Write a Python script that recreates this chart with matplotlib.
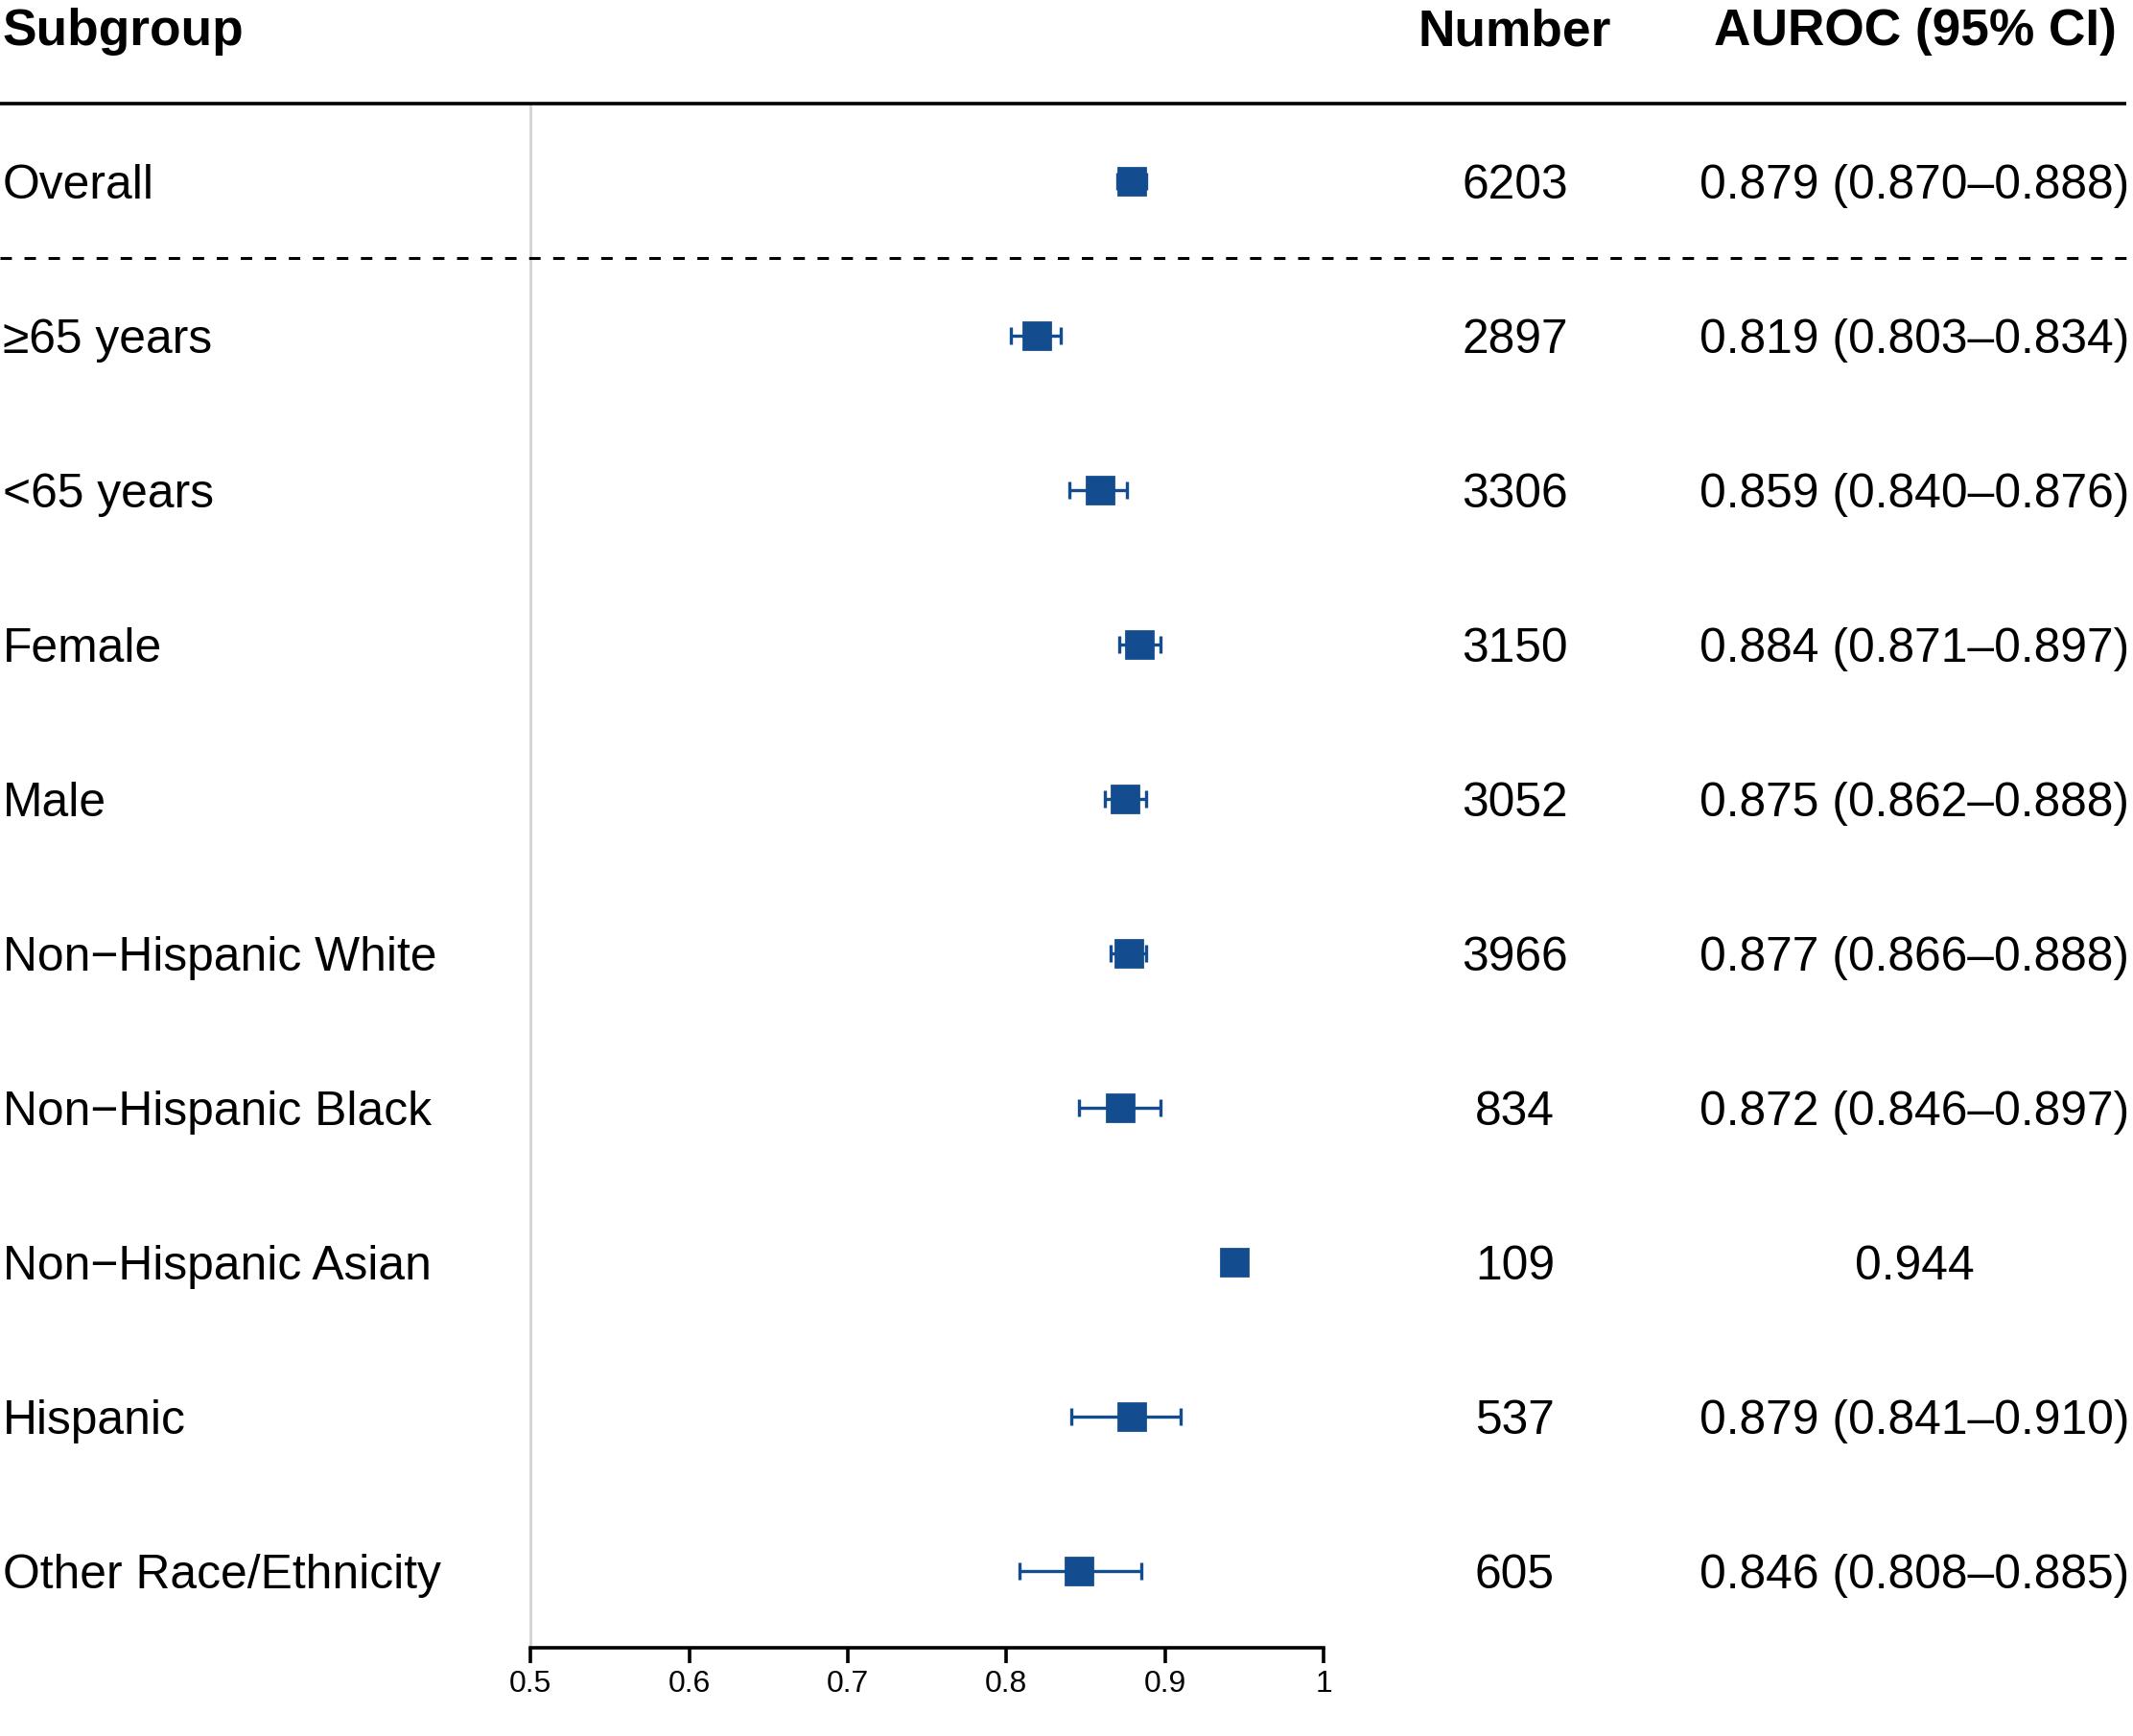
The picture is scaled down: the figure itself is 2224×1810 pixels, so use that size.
import matplotlib.pyplot as plt
import numpy as np

# ---- data ----
subgroups = ["Overall", "\u226565 years", "<65 years", "Female", "Male",
             "Non\u2212Hispanic White", "Non\u2212Hispanic Black",
             "Non\u2212Hispanic Asian", "Hispanic", "Other Race/Ethnicity"]
numbers = [6203, 2897, 3306, 3150, 3052, 3966, 834, 109, 537, 605]
auroc = [0.879, 0.819, 0.859, 0.884, 0.875, 0.877, 0.872, 0.944, 0.879, 0.846]
ci_low = [0.870, 0.803, 0.840, 0.871, 0.862, 0.866, 0.846, np.nan, 0.841, 0.808]
ci_high = [0.888, 0.834, 0.876, 0.897, 0.888, 0.888, 0.897, np.nan, 0.910, 0.885]
xticks = [0.5, 0.6, 0.7, 0.8, 0.9, 1.0]
xtick_labels = ["0.5", "0.6", "0.7", "0.8", "0.9", "1"]

BLUE = "#134d8f"
FONT = ["Liberation Sans", "DejaVu Sans"]
plt.rcParams["font.family"] = FONT


def ci_text(est, lo, hi):
    if np.isnan(lo):
        return f"{est:.3f}"
    return f"{est:.3f} ({lo:.3f}\u2013{hi:.3f})"


def main():
    fig = plt.figure(figsize=(11.12, 9.05), dpi=200)
    ax = fig.add_axes([0, 0, 1, 1])

    n = len(subgroups)
    rows = np.arange(n)
    # x in AUROC units across the full width, y in row units
    ax.set_xlim(0.1655, 1.5103)
    ax.set_ylim(10.07, -1.172)

    # column positions in AUROC units
    x_label = 0.1672
    x_num = 1.1205
    x_ci = 1.3727
    x_end = 1.506

    # header
    ax.text(x_label, -1, "Subgroup", fontsize=19.2, fontweight="bold",
            ha="left", va="center_baseline")
    ax.text(x_num, -1, "Number", fontsize=19.2, fontweight="bold",
            ha="center", va="center_baseline")
    ax.text(x_ci, -1, "AUROC (95% CI)", fontsize=19.2, fontweight="bold",
            ha="center", va="center_baseline")

    # lines
    ax.plot([ax.get_xlim()[0], x_end], [-0.5, -0.5], color="black", lw=1.3,
            solid_capstyle="butt")
    ax.plot([ax.get_xlim()[0], x_end], [0.5, 0.5], color="black", lw=1.1,
            dashes=(3.9, 4.3))
    ax.plot([0.5, 0.5], [-0.5, n - 0.5], color="#d3d3d3", lw=1.0, zorder=1)

    # rows
    for i in rows:
        ax.text(x_label, i, subgroups[i], fontsize=17.9, ha="left",
                va="center_baseline")
        ax.text(x_num, i, str(numbers[i]), fontsize=17.9, ha="center",
                va="center_baseline")
        ax.text(x_ci, i, ci_text(auroc[i], ci_low[i], ci_high[i]),
                fontsize=17.9, ha="center", va="center_baseline")

    est = np.array(auroc)
    lo = np.array(ci_low)
    hi = np.array(ci_high)
    has_ci = ~np.isnan(lo)
    ax.errorbar(est[has_ci], rows[has_ci],
                xerr=[est[has_ci] - lo[has_ci], hi[has_ci] - est[has_ci]],
                fmt="none", ecolor=BLUE, elinewidth=1.2, capsize=3.4,
                capthick=1.2, zorder=3)
    ax.plot(est, rows, "s", color=BLUE, markersize=9.8, zorder=4)

    # x axis at the bottom of the plot region
    for s in ["top", "left", "right"]:
        ax.spines[s].set_visible(False)
    ax.spines["bottom"].set_position(("data", n - 0.5))
    ax.spines["bottom"].set_bounds(0.5, 1.0)
    ax.spines["bottom"].set_linewidth(1.3)
    ax.set_yticks([])
    ax.set_xticks(xticks)
    ax.set_xticklabels(xtick_labels, fontsize=11.5)
    ax.tick_params(axis="x", direction="out", length=5.6, width=1.3, pad=2.5)

    fig.savefig("out.png", dpi=200)


if __name__ == "__main__":
    main()
